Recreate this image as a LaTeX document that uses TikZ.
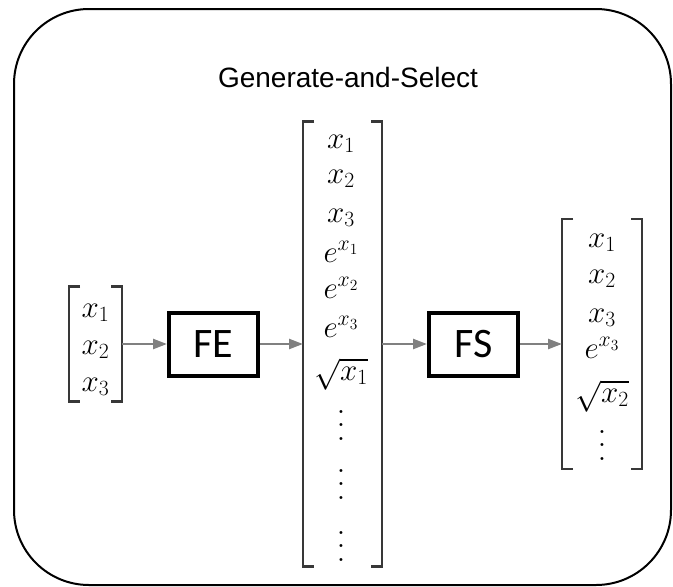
\RequirePackage{fix-cm}
\documentclass[tikz,border=0pt]{standalone}
\usepackage{fontspec}
\setmainfont{Liberation Sans}
\newfontfamily\boxfont{Carlito}
\usetikzlibrary{arrows.meta}
\definecolor{arrgray}{gray}{0.5}
\definecolor{brkgray}{gray}{0.22}
\newcommand{\vdts}{\vbox{\baselineskip=13.5pt\lineskiplimit=-\maxdimen\hbox{$\mathbf{.}$}\hbox{$\mathbf{.}$}\hbox{$\mathbf{.}$}}}

\begin{document}
\begin{tikzpicture}[x=1pt, y=-1pt,
    vec/.style = {inner sep=0, outer sep=0, draw=none},
    ent/.style = {anchor=base, inner sep=0, text=black,
      font=\fontsize{31}{36}\selectfont},
    brk/.style = {draw=brkgray, line width=2.6pt},
    blk/.style = {draw, line width=4pt, inner sep=0,
      minimum width=89, minimum height=63,
      font=\boxfont\fontsize{42}{48}\selectfont},
    arr/.style = {draw=arrgray, line width=2.4pt,
      -{Triangle[length=14pt, width=10pt]}}]
  \useasboundingbox (0,0) rectangle (673,587);
  \draw[line width=2pt, rounded corners=75pt] (14,9) rectangle (671,585);
  \node[font=\fontsize{28}{32}\selectfont] (title) at (348,77) {Generate-and-Select};
  \node[vec, minimum width=53, minimum height=115] (inp) at (95.5,344) {};
  \node[vec, minimum width=79, minimum height=445] (gen) at (342.5,344) {};
  \node[vec, minimum width=80, minimum height=250] (sel) at (602,344) {};
  \node[blk] (fe) at (213.5,344) {FE};
  \node[blk] (fs) at (473.5,344) {FS};
  \foreach \v in {inp,gen,sel}
    \draw[brk] ([xshift=11pt]\v.north west) -- (\v.north west) -- (\v.south west) -- ([xshift=11pt]\v.south west)
               ([xshift=-11pt]\v.north east) -- (\v.north east) -- (\v.south east) -- ([xshift=-11pt]\v.south east);
  \foreach \t/\y [count=\i] in {x_1/317, x_2/354, x_3/391}
    \node[ent] (inp\i) at (95.5,\y) {$\t$};
  \foreach \t/\y [count=\i] in {x_1/148, x_2/183, x_3/222, e^{x_1}/262, e^{x_2}/298,
      e^{x_3}/337, {\sqrt{x_1}}/380, \vdts/440, \vdts/499, \vdts/561}
    \node[ent] (gen\i) at (341,\y) {$\t$};
  \foreach \t/\y [count=\i] in {x_1/247, x_2/283, x_3/322, e^{x_3}/358,
      {\sqrt{x_2}}/402, \vdts/460}
    \node[ent] (sel\i) at (602,\y) {$\t$};
  \draw[arr] (inp) -- (fe);
  \draw[arr] (fe) -- (gen);
  \draw[arr] (gen) -- (fs);
  \draw[arr] (fs) -- (sel);
\end{tikzpicture}
\end{document}
